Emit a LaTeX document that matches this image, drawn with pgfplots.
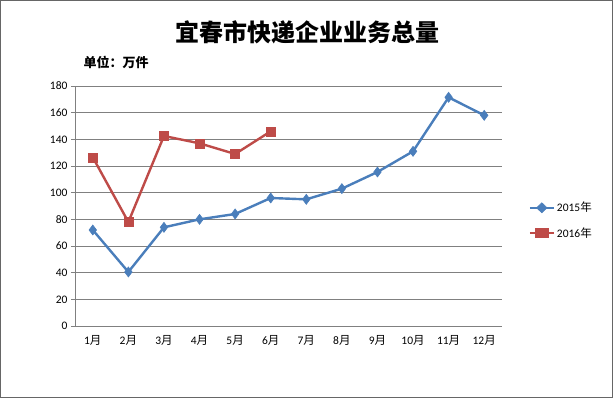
\documentclass[border=0pt]{standalone}
\usepackage{fontspec}
\usepackage{pgfplots}
\pgfplotsset{compat=1.18}
\setmainfont{Carlito}
\newfontfamily\cjk{Noto Sans CJK SC}
\begin{document}
\begin{tikzpicture}
\draw[gray!80!black, line width=0.8pt] (0.4pt,0.4pt) rectangle (612.6pt,397.6pt);
\begin{axis}[
  at={(75pt,72pt)}, anchor=south west,
  scale only axis, width=427pt, height=240pt,
  xmin=0.5, xmax=12.5, ymin=0, ymax=180,
  xtick={1,...,12},
  xticklabels={1{\cjk 月},2{\cjk 月},3{\cjk 月},4{\cjk 月},5{\cjk 月},6{\cjk 月},7{\cjk 月},8{\cjk 月},9{\cjk 月},10{\cjk 月},11{\cjk 月},12{\cjk 月}},
  ytick={0,20,...,180},
  major x tick style={draw=none},
  ytick style={gray, line width=0.8pt},
  tick align=outside, major tick length=4pt,
  ymajorgrids, grid style={gray, line width=0.8pt},
  axis x line*=bottom, axis y line*=left,
  axis line style={gray, line width=0.8pt, -},
  tick label style={font=\fontsize{11.5}{13}\selectfont},
  /pgf/number format/assume math mode=true,
  xticklabel style={yshift=-2pt},
  legend style={at={(1.055,0.44)}, anchor=west, draw=none, fill=none, row sep=10pt,
    font=\fontsize{11.5}{13}\selectfont, cells={anchor=west}},
  legend cell align=left,
  legend image post style={xscale=1.4},
  clip=false,
]
\addplot[color={rgb,255:red,74;green,126;blue,187}, line width=2.4pt, mark=diamond*, mark size=5pt, mark options={line width=0.6pt}]
  coordinates {(1,72)(2,40.5)(3,74)(4,80)(5,84)(6,96)(7,95)(8,103)(9,115.5)(10,131)(11,171.5)(12,158)};
\addlegendentry{2015{\cjk 年}}
\addplot[color={rgb,255:red,190;green,75;blue,72}, line width=2.4pt, mark=square*, mark size=4.5pt, mark options={line width=0.6pt}]
  coordinates {(1,126.5)(2,78)(3,142.5)(4,137)(5,129)(6,146)};
\addlegendentry{2016{\cjk 年}}
\end{axis}
\node[font=\cjk\bfseries\fontsize{24}{28}\selectfont] at (307pt,366pt) {宜春市快递企业业务总量};
\node[font=\cjk\bfseries\fontsize{13}{15}\selectfont, anchor=west] at (80pt,336pt) {单位：万件};
\end{tikzpicture}
\end{document}
